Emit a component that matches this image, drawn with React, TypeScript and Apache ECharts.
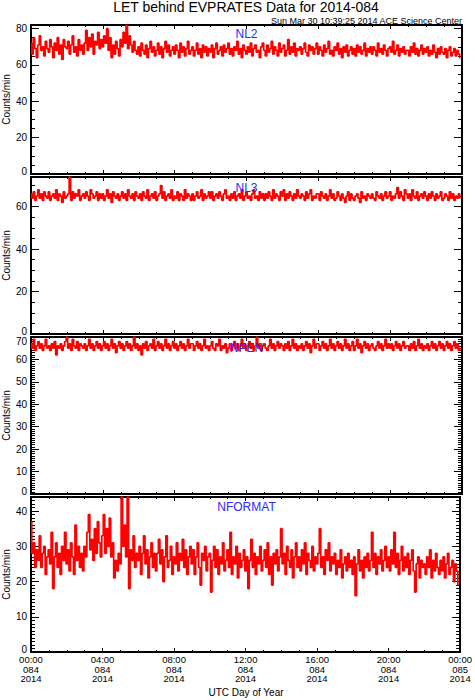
import React, { useEffect, useRef } from "react";
import * as echarts from "echarts";

const titleText = "LET behind EVPRATES Data for 2014-084";
const subtitleText = "Sun Mar 30 10:39:25 2014 ACE Science Center";
const xAxisTitle = "UTC Day of Year";
const yAxisTitle = "Counts/min";
const panelNames = ["NL2", "NL3", "NPEN", "NFORMAT"];
const yMax = [82, 74, 70, 44];
const yMajorStep = [20, 20, 10, 10];
const yMinorStep = [5, 5, 1, 1];
const xTickLabels = [
  "00:00\n084\n2014",
  "04:00\n084\n2014",
  "08:00\n084\n2014",
  "12:00\n084\n2014",
  "16:00\n084\n2014",
  "20:00\n084\n2014",
  "00:00\n085\n2014",
];
const minutesPerTick = 240;
const dayMinutes = 1440;
const sampleMinutes = 5;

// 5-minute samples
const nl2 = [
  72, 66, 75, 69, 64, 71, 76, 68, 70, 65, 73, 69,
  67, 74, 70, 64, 72, 68, 75, 66, 71, 63, 74, 70,
  69, 73, 66, 71, 76, 67, 70, 65, 74, 68, 71, 66,
  72, 79, 68, 75, 70, 77, 66, 73, 71, 78, 69, 74,
  70, 76, 72, 80, 68, 75, 64, 71, 66, 73, 69, 65,
  74, 70, 78, 72, 82, 69, 76, 71, 67, 73, 68, 66,
  70, 65, 72, 68, 66, 71, 64, 69, 73, 67, 70, 65,
  68, 72, 66, 70, 64, 69, 73, 67, 71, 65, 68, 70,
  66, 71, 68, 64, 72, 67, 70, 65, 69, 73, 66, 68,
  70, 65, 68, 72, 66, 69, 64, 71, 67, 70, 65, 69,
  67, 71, 64, 69, 72, 66, 68, 70, 65, 71, 67, 69,
  72, 66, 69, 65, 70, 68, 73, 66, 69, 64, 71, 68,
  66, 70, 67, 72, 65, 69, 71, 67, 68, 64, 70, 72,
  68, 65, 71, 67, 69, 73, 66, 70, 68, 65, 72, 67,
  69, 71, 65, 68, 74, 66, 70, 67, 72, 65, 69, 68,
  70, 66, 69, 72, 67, 65, 71, 68, 70, 66, 69, 72,
  66, 70, 68, 65, 71, 67, 69, 73, 66, 68, 65, 70,
  68, 72, 66, 69, 64, 70, 67, 71, 65, 68, 70, 66,
  69, 65, 71, 67, 70, 66, 68, 72, 65, 69, 67, 70,
  66, 70, 68, 65, 72, 67, 69, 66, 71, 68, 65, 69,
  70, 67, 73, 66, 68, 71, 65, 69, 67, 70, 66, 68,
  68, 65, 70, 67, 72, 66, 69, 65, 68, 71, 66, 69,
  67, 70, 65, 68, 66, 71, 67, 64, 69, 66, 70, 67,
  66, 69, 64, 68, 70, 65, 67, 69, 65, 68, 66, 64,
];

const nl3 = [
  66, 64, 67, 63, 65, 68, 64, 66, 63, 67, 65, 64,
  67, 63, 65, 66, 64, 68, 63, 66, 65, 62, 67, 64,
  65, 66, 74, 63, 67, 64, 66, 65, 68, 63, 65, 66,
  64, 67, 65, 63, 68, 66, 64, 65, 67, 63, 66, 64,
  66, 63, 65, 68, 64, 66, 62, 67, 65, 64, 66, 63,
  65, 67, 64, 66, 63, 68, 65, 64, 66, 63, 67, 65,
  64, 66, 63, 67, 65, 64, 68, 63, 65, 66, 64, 67,
  63, 65, 66, 70, 64, 67, 63, 65, 66, 64, 68, 63,
  65, 64, 67, 63, 66, 65, 63, 68, 64, 66, 65, 63,
  66, 63, 65, 67, 64, 65, 68, 63, 66, 64, 65, 67,
  64, 67, 63, 65, 66, 64, 67, 65, 63, 66, 68, 64,
  65, 63, 66, 64, 67, 63, 65, 66, 64, 68, 63, 65,
  67, 64, 65, 63, 66, 68, 64, 65, 63, 67, 64, 66,
  63, 66, 64, 67, 65, 63, 68, 64, 66, 65, 63, 67,
  65, 68, 63, 66, 64, 67, 65, 63, 66, 64, 68, 65,
  64, 66, 65, 63, 67, 64, 66, 68, 63, 65, 64, 66,
  66, 63, 67, 65, 64, 66, 63, 65, 68, 64, 66, 63,
  64, 67, 65, 63, 66, 64, 62, 65, 67, 63, 66, 64,
  63, 65, 66, 64, 62, 67, 64, 65, 63, 66, 65, 64,
  66, 64, 63, 67, 65, 64, 66, 63, 65, 67, 64, 65,
  67, 63, 65, 64, 66, 69, 64, 67, 65, 63, 68, 66,
  64, 66, 63, 68, 65, 64, 67, 63, 65, 66, 64, 67,
  65, 63, 66, 64, 67, 65, 63, 66, 64, 65, 67, 63,
  64, 66, 65, 63, 67, 64, 66, 63, 65, 64, 66, 64,
];

const npen = [
  67, 65, 69, 64, 66, 68, 65, 67, 64, 66, 69, 65,
  66, 64, 67, 65, 68, 62, 66, 65, 67, 64, 66, 68,
  70, 65, 67, 64, 69, 66, 65, 68, 64, 67, 66, 65,
  67, 64, 66, 69, 65, 67, 64, 66, 68, 65, 67, 64,
  66, 68, 65, 67, 64, 66, 69, 65, 67, 63, 66, 68,
  65, 67, 64, 66, 68, 65, 67, 64, 66, 70, 65, 67,
  64, 66, 62, 67, 65, 68, 64, 66, 67, 65, 69, 64,
  66, 68, 65, 67, 64, 66, 69, 65, 67, 64, 66, 68,
  65, 67, 64, 66, 68, 65, 67, 64, 66, 69, 65, 67,
  67, 64, 66, 68, 65, 67, 64, 66, 69, 65, 66, 64,
  66, 68, 65, 64, 67, 66, 69, 64, 66, 65, 67, 63,
  65, 67, 64, 66, 68, 65, 67, 64, 66, 69, 65, 67,
  64, 66, 68, 65, 67, 64, 66, 70, 65, 67, 64, 66,
  67, 65, 64, 66, 69, 65, 67, 64, 66, 68, 65, 67,
  66, 64, 67, 65, 68, 64, 66, 69, 65, 67, 64, 66,
  65, 67, 64, 66, 68, 65, 67, 63, 66, 69, 65, 67,
  67, 64, 66, 68, 65, 67, 64, 66, 69, 65, 67, 64,
  66, 68, 65, 67, 64, 66, 69, 65, 67, 64, 66, 68,
  64, 66, 69, 65, 67, 63, 66, 68, 65, 67, 64, 66,
  67, 65, 64, 66, 68, 65, 67, 64, 66, 69, 65, 67,
  65, 67, 64, 66, 68, 65, 67, 64, 66, 68, 65, 66,
  66, 64, 67, 65, 68, 64, 66, 69, 65, 67, 64, 66,
  65, 67, 64, 66, 68, 65, 67, 64, 66, 68, 65, 67,
  64, 66, 68, 65, 67, 64, 66, 68, 65, 67, 64, 65,
];

const nformat = [
  37, 28, 31, 24, 29, 26, 33, 24, 28, 30, 22, 27,
  29, 25, 34, 18, 27, 31, 24, 28, 22, 30, 26, 34,
  25, 29, 23, 31, 27, 22, 36, 26, 30, 24, 28, 23,
  30, 27, 34, 39, 29, 32, 26, 35, 28, 37, 31, 27,
  33, 39, 28, 35, 30, 38, 27, 31, 21, 26, 23, 28,
  25, 44, 30, 36, 27, 44, 18, 29, 26, 33, 24, 28,
  26, 30, 22, 28, 33, 25, 29, 21, 27, 31, 24, 28,
  23, 28, 32, 25, 29, 20, 27, 33, 24, 26, 30, 22,
  27, 25, 31, 23, 28, 26, 32, 24, 29, 22, 27, 30,
  25, 29, 22, 27, 31, 24, 19, 28, 26, 30, 23, 27,
  28, 17, 26, 30, 24, 29, 22, 27, 25, 31, 23, 26,
  29, 24, 34, 22, 27, 25, 30, 21, 28, 24, 26, 29,
  23, 27, 18, 26, 32, 24, 28, 22, 27, 25, 30, 23,
  26, 29, 24, 31, 22, 27, 19, 28, 25, 29, 23, 27,
  35, 25, 28, 22, 30, 26, 24, 29, 21, 27, 31, 24,
  27, 23, 29, 25, 31, 22, 28, 26, 24, 30, 23, 27,
  25, 28, 35, 24, 27, 22, 29, 26, 31, 23, 27, 25,
  28, 22, 26, 24, 29, 21, 25, 27, 23, 28, 24, 26,
  22, 27, 16, 25, 29, 23, 26, 21, 27, 24, 28, 23,
  26, 34, 24, 28, 22, 27, 25, 29, 23, 26, 30, 24,
  27, 23, 29, 25, 34, 24, 28, 22, 26, 30, 23, 27,
  24, 28, 22, 26, 29, 23, 17, 25, 27, 21, 26, 24,
  25, 22, 27, 24, 29, 21, 26, 23, 28, 24, 22, 26,
  23, 27, 21, 25, 28, 22, 24, 26, 20, 25, 23, 19,
];

const panelData = [nl2, nl3, npen, nformat];

const FONT = "Liberation Sans";
const grids = [
  { left: 31, top: 25, width: 431, height: 149 },
  { left: 31, top: 177, width: 431, height: 157 },
  { left: 31, top: 337, width: 431, height: 157 },
  { left: 31, top: 497, width: 431, height: 155 },
];
const nameY = [34, 188, 348, 507];

function buildOption() {
  const xAxes: any[] = [];
  const yAxes: any[] = [];
  const series: any[] = [];
  const graphics: any[] = [];
  const black = "#000";
  const labelBase = { fontSize: 10, color: black, fontFamily: FONT };

  grids.forEach((g, p) => {
    const isLast = p === grids.length - 1;
    const xCommon = {
      type: "value",
      gridIndex: p,
      min: 0,
      max: dayMinutes,
      interval: minutesPerTick,
      splitLine: { show: false },
      axisLine: { show: true, onZero: false, lineStyle: { color: black, width: 2 } },
      axisTick: { show: true, inside: true, length: 4, lineStyle: { color: black, width: 1 } },
      minorTick: { show: true, splitNumber: 4, length: 2, lineStyle: { color: black, width: 1 } },
    };
    xAxes.push({
      ...xCommon,
      position: "bottom",
      axisLabel: {
        show: isLast,
        margin: 3,
        fontSize: 9.5,
        lineHeight: 9.5,
        color: black,
        fontFamily: FONT,
        showMinLabel: true,
        showMaxLabel: true,
        hideOverlap: false,
        formatter: (v: number) => xTickLabels[Math.round(v / minutesPerTick)] ?? "",
      },
    });
    xAxes.push({ ...xCommon, position: "top", axisLabel: { show: false } });

    const yCommon = {
      type: "value",
      gridIndex: p,
      min: 0,
      max: yMax[p],
      splitLine: { show: false },
    };
    const majorFmt = (v: number) => {
      if (v % yMajorStep[p] !== 0) return "";
      if (v === 0) return "{lo|0}";
      if (v === yMax[p]) return "{hi|" + v + "}";
      return String(v);
    };
    yAxes.push({
      ...yCommon,
      position: "left",
      interval: yMajorStep[p],
      axisLine: { show: true, onZero: false, lineStyle: { color: black, width: 2 } },
      axisTick: { show: true, inside: true, length: 8, lineStyle: { color: black, width: 1 } },
      axisLabel: {
        show: true,
        margin: 4,
        ...labelBase,
        showMaxLabel: true,
        showMinLabel: true,
        hideOverlap: false,
        formatter: majorFmt,
        rich: {
          lo: { ...labelBase, padding: [0, 0, 5, 0] },
          hi: { ...labelBase, padding: [8, 0, 0, 0] },
        },
      },
    });
    yAxes.push({
      ...yCommon,
      position: "right",
      interval: yMajorStep[p],
      axisLine: { show: true, onZero: false, lineStyle: { color: black, width: 2 } },
      axisTick: { show: true, inside: true, length: 8, lineStyle: { color: black, width: 1 } },
      axisLabel: { show: false },
    });
    ["left", "right"].forEach((pos) => {
      yAxes.push({
        ...yCommon,
        position: pos,
        interval: yMinorStep[p],
        axisLine: { show: false, onZero: false },
        axisTick: { show: true, inside: true, length: 4, lineStyle: { color: black, width: 1 } },
        axisLabel: { show: false },
      });
    });

    series.push({
      type: "line",
      xAxisIndex: p * 2,
      yAxisIndex: p * 4,
      data: panelData[p].map((v, i) => [i * sampleMinutes, v]),
      step: "middle",
      showSymbol: false,
      symbol: "none",
      silent: true,
      clip: true,
      lineStyle: { color: "#ff0000", width: 1.7 },
    });

    graphics.push({
      type: "text",
      x: g.left + g.width / 2,
      y: nameY[p],
      style: {
        text: panelNames[p],
        fill: "#2a2aff",
        fontSize: 12,
        fontFamily: FONT,
        align: "center",
        verticalAlign: "middle",
      },
      z: 100,
    });
    graphics.push({
      type: "text",
      x: 6.5,
      y: g.top + g.height / 2,
      rotation: Math.PI / 2,
      style: {
        text: yAxisTitle,
        fill: black,
        fontSize: 10,
        fontFamily: FONT,
        align: "center",
        verticalAlign: "middle",
      },
    });
  });

  graphics.push({
    type: "text",
    x: 246,
    y: 7,
    style: {
      text: titleText,
      fill: black,
      fontSize: 14,
      fontFamily: FONT,
      align: "center",
      verticalAlign: "middle",
    },
  });
  graphics.push({
    type: "text",
    x: 462,
    y: 20.5,
    style: {
      text: subtitleText,
      fill: black,
      fontSize: 9,
      fontFamily: FONT,
      align: "right",
      verticalAlign: "middle",
    },
  });
  graphics.push({
    type: "text",
    x: 246,
    y: 692,
    style: {
      text: xAxisTitle,
      fill: black,
      fontSize: 10,
      fontFamily: FONT,
      align: "center",
      verticalAlign: "middle",
    },
  });

  return {
    animation: false,
    backgroundColor: "#fff",
    textStyle: { fontFamily: FONT },
    grid: grids.map((g) => ({ ...g, show: false, containLabel: false })),
    xAxis: xAxes,
    yAxis: yAxes,
    series,
    graphic: graphics,
  };
}

export default function App() {
  const ref = useRef<HTMLDivElement>(null);
  useEffect(() => {
    if (!ref.current) return;
    const chart = echarts.init(ref.current, undefined, { renderer: "svg" });
    chart.setOption(buildOption() as any);
    return () => chart.dispose();
  }, []);
  return (
    <div
      ref={ref}
      style={{ position: "absolute", left: 0, top: 0, width: 475, height: 700, background: "#fff" }}
    />
  );
}
